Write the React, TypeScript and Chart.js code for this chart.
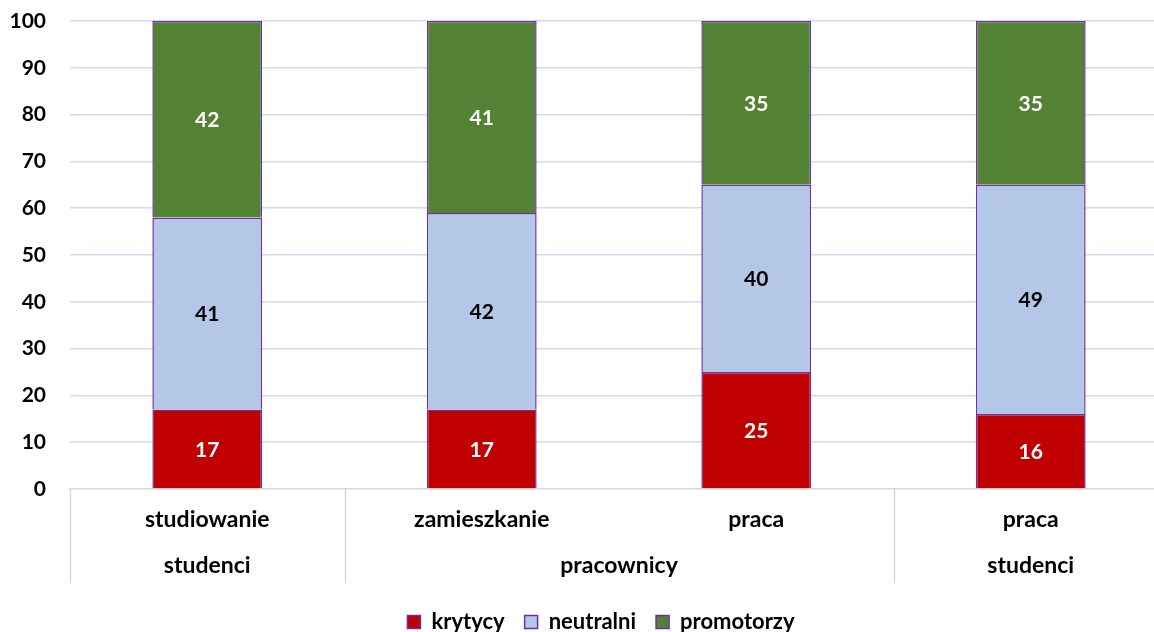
import React, { useEffect, useRef } from 'react';
import { Chart, registerables } from 'chart.js';
Chart.register(...registerables);

const categories = ['studiowanie', 'zamieszkanie', 'praca', 'praca'];
const groupLabels = ['studenci', 'pracownicy', 'studenci'];
const groupSpans = [1, 2, 1];
const seriesNames = ['krytycy', 'neutralni', 'promotorzy'];
const krytycy = [17, 17, 25, 16];
const neutralni = [41, 42, 40, 49];
const promotorzy = [42, 41, 35, 35];
const seriesColors = ['#C00000', '#B4C7E7', '#548235'];
const labelColors = ['#FFFFFF', '#000000', '#FFFFFF'];
const yMin = 0;
const yMax = 100;
const yStep = 10;

const FONT = 'Lato, "Open Sans", "Noto Sans", sans-serif';

const valueLabels = {
  id: 'valueLabels',
  afterDatasetsDraw(chart: any) {
    const ctx = chart.ctx;
    ctx.save();
    ctx.font = `bold 21px ${FONT}`;
    ctx.textAlign = 'center';
    ctx.textBaseline = 'middle';
    chart.data.datasets.forEach((ds: any, di: number) => {
      const meta = chart.getDatasetMeta(di);
      ctx.fillStyle = labelColors[di];
      meta.data.forEach((el: any, i: number) => {
        const p = el.getProps(['x', 'y', 'base'], true);
        ctx.fillText(String(ds.data[i]), p.x, (p.y + p.base) / 2 + 1);
      });
    });
    ctx.restore();
  },
};

const multiLevelAxis = {
  id: 'multiLevelAxis',
  afterLayout(chart: any) {
    if (chart.legend) {
      chart.legend.left += 17;
      chart.legend.right += 17;
      chart.legend.top += 7;
      chart.legend.bottom += 7;
    }
  },
  afterDraw(chart: any) {
    const { ctx, chartArea } = chart;
    const x = chart.scales.x;
    const half = (x.getPixelForValue(1) - x.getPixelForValue(0)) / 2;
    const top = chartArea.bottom;
    const bottom = top + 94;
    ctx.save();
    ctx.strokeStyle = '#D9D9D9';
    ctx.lineWidth = 1.5;
    const bounds = [0];
    let acc = 0;
    groupSpans.forEach((s) => {
      acc += s;
      bounds.push(acc);
    });
    bounds.forEach((b) => {
      const px = Math.round(x.getPixelForValue(b) - half) + 0.5;
      ctx.beginPath();
      ctx.moveTo(px, top);
      ctx.lineTo(px, bottom);
      ctx.stroke();
    });
    ctx.font = `bold 23px ${FONT}`;
    ctx.fillStyle = '#000000';
    ctx.textAlign = 'center';
    ctx.textBaseline = 'middle';
    categories.forEach((c, i) => {
      ctx.fillText(c, x.getPixelForValue(i), top + 31);
    });
    groupLabels.forEach((g, k) => {
      const px = (x.getPixelForValue(bounds[k]) + x.getPixelForValue(bounds[k + 1] - 1)) / 2;
      ctx.fillText(g, px, top + 77);
    });
    ctx.restore();
  },
};

export default function App() {
  const ref = useRef<HTMLCanvasElement>(null);
  useEffect(() => {
    document.documentElement.style.overflow = 'hidden';
    document.body.style.margin = '0';
    document.body.style.overflow = 'hidden';
    const series = [krytycy, neutralni, promotorzy];
    const chart = new Chart(ref.current!, {
      type: 'bar',
      data: {
        labels: categories,
        datasets: series.map((d, i) => ({
          label: seriesNames[i],
          data: d,
          backgroundColor: seriesColors[i],
          borderColor: '#7030A0',
          borderWidth: 1.5,
          categoryPercentage: 1,
          barPercentage: 0.4,
        })),
      },
      options: {
        animation: false,
        responsive: true,
        maintainAspectRatio: false,
        layout: { padding: { top: 21, left: 0, right: 0, bottom: 0 } },
        scales: {
          x: {
            stacked: true,
            grid: { display: false },
            border: { display: true, color: '#D9D9D9', width: 1.5 },
            ticks: { display: false },
            afterFit: (scale: any) => {
              scale.height = 95;
            },
          },
          y: {
            stacked: true,
            min: yMin,
            max: yMax,
            ticks: {
              stepSize: yStep,
              padding: 3,
              color: '#000000',
              font: { family: FONT, size: 21, weight: 'bold' },
            },
            grid: {
              drawTicks: true,
              tickLength: 21,
              tickColor: 'rgba(0,0,0,0)',
              lineWidth: 1.5,
              color: (c: any) => (c.tick && c.tick.value === 0 ? 'rgba(0,0,0,0)' : '#D0D9EE'),
            },
            border: { display: false },
            afterFit: (scale: any) => {
              scale.width = 70;
            },
          },
        },
        plugins: {
          tooltip: { enabled: false },
          legend: {
            position: 'bottom',
            labels: {
              boxWidth: 13,
              boxHeight: 13,
              padding: 20,
              color: '#000000',
              font: { family: FONT, size: 22, weight: 'bold' },
            },
          },
        },
      },
      plugins: [valueLabels, multiLevelAxis],
    } as any);
    return () => chart.destroy();
  }, []);
  return (
    <div style={{ width: 1168, height: 636, position: 'relative' }}>
      <canvas ref={ref} />
    </div>
  );
}
